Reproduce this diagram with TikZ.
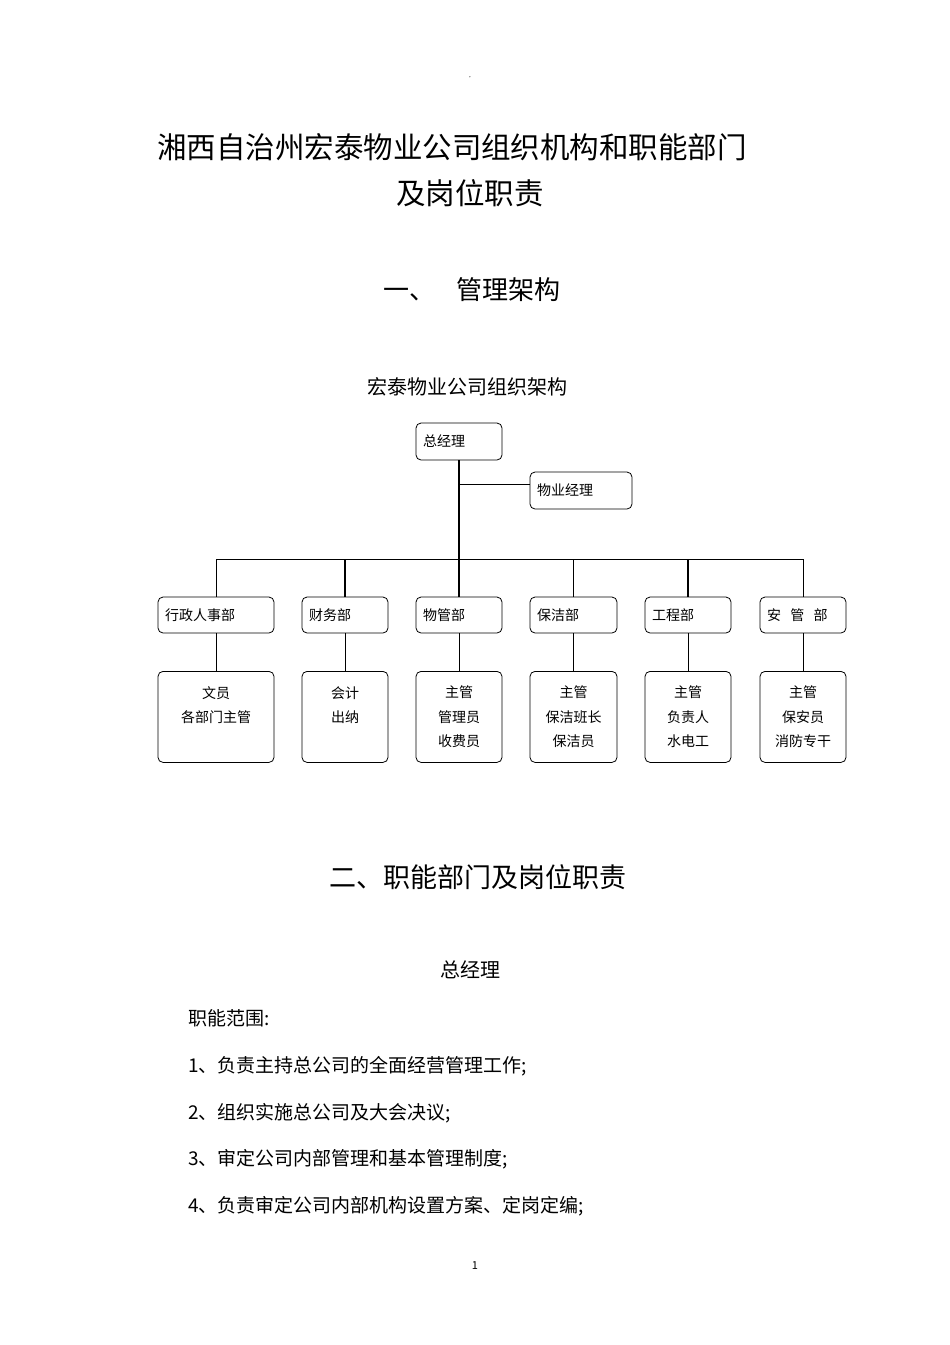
\documentclass[tikz,border=0pt]{standalone}
\usepackage{fontspec}
\setmainfont{Noto Sans CJK SC}
\begin{document}
\begin{tikzpicture}[x=1pt,y=-1pt,
 box/.style={draw,thick,rounded corners=5pt,inner sep=0pt,font=\fontsize{14}{20}\selectfont},
 ln/.style={line width=1.3pt},
 tln/.style={line width=0.7pt},
 txt/.style={inner sep=0pt,anchor=west}]
\useasboundingbox (0,0) rectangle (950,1345);
\node[inner sep=0] (dot) at (471,77) {\fontsize{4}{4}\selectfont 。};
\node[inner sep=0] (t1) at (452,147) {\fontsize{29.5}{32}\selectfont 湘西自治州宏泰物业公司组织机构和职能部门};
\node[inner sep=0] (t2) at (470,193) {\fontsize{29.5}{32}\selectfont 及岗位职责};
\node[inner sep=0] (h1) at (472,290) {\fontsize{26}{30}\selectfont 一、\hspace{22pt}管理架构};
\node[inner sep=0] (ct) at (467,387) {\fontsize{20}{22}\selectfont 宏泰物业公司组织架构};
% boxes
\node[box,minimum width=86,minimum height=37,text width=72,align=left] (gm) at (459,441.5) {总经理};
\node[box,minimum width=102,minimum height=37,text width=88,align=left] (wy) at (581,490.5) {物业经理};
\foreach \n/\x/\w/\t in {d1/216/116/行政人事部,d2/345/86/财务部,d3/459/86/物管部,d4/573.5/87/保洁部,d5/688/86/工程部,d6/803/86/安\ \ 管\ \ 部}{
 \node[box,minimum width=\w,minimum height=36,text width=\w-14,align=left] (\n) at (\x,615) {\t};
}
\foreach \n/\x/\w/\t in {s1/216/116/{文员\\各部门主管\\\ },s2/345/86/{会计\\出纳\\\ },s3/459/86/{主管\\管理员\\收费员},s4/573.5/87/{主管\\保洁班长\\保洁员},s5/688/86/{主管\\负责人\\水电工},s6/803/86/{主管\\保安员\\消防专干}}{
 \node[box,minimum width=\w,minimum height=91,align=center,font=\fontsize{14}{24.5}\selectfont,anchor=north] (\n) at (\x,671) {\t};
}
\coordinate (bus) at (459,559);
\coordinate (br) at (459,484);
\draw[ln] (gm.south) -- (d3.north);
\draw[tln] (br) -- (br -| wy.west);
\draw[tln] (d1.north) |- (bus) -| (d6.north);
\foreach \n in {d2,d4,d5} \draw[ln] (\n.north) -- (\n.north |- bus);
\foreach \i in {1,...,6} \draw[tln] (d\i.south) -- (s\i.north);
\node[inner sep=0] (h2) at (478,877) {\fontsize{27}{30}\selectfont 二、职能部门及岗位职责};
\node[inner sep=0] (h3) at (470,970) {\fontsize{20}{24}\selectfont 总经理};
\begin{scope}[every node/.style={txt,font=\fontsize{19}{22}\selectfont}]
\node (b0) at (188,1018) {职能范围:};
\node (b1) at (188,1066) {1、负责主持总公司的全面经营管理工作;};
\node (b2) at (188,1113) {2、组织实施总公司及大会决议;};
\node (b3) at (188,1159) {3、审定公司内部管理和基本管理制度;};
\node (b4) at (188,1206) {4、负责审定公司内部机构设置方案、定岗定编;};
\end{scope}
\node[inner sep=0] (pg) at (475,1266) {\fontsize{11}{11}\selectfont 1};
\end{tikzpicture}
\end{document}
